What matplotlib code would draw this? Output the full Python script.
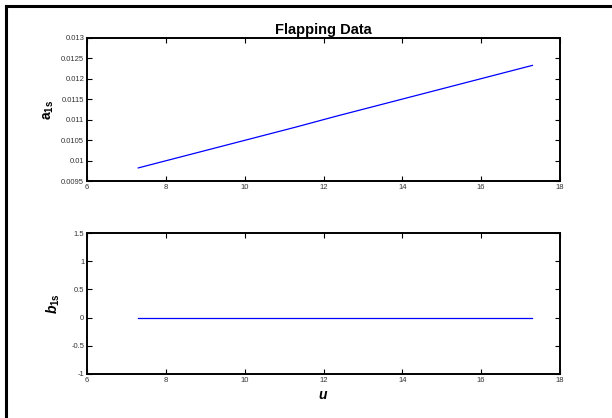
import matplotlib
matplotlib.use("Agg")
import matplotlib.pyplot as plt
from matplotlib.lines import Line2D

plt.rcParams['font.family'] = ['Liberation Sans', 'DejaVu Sans']
plt.rcParams['mathtext.fontset'] = 'custom'
plt.rcParams['mathtext.rm'] = 'Liberation Sans'
plt.rcParams['mathtext.bf'] = 'Liberation Sans:bold'
plt.rcParams['mathtext.it'] = 'Liberation Sans:italic:bold'

u = [7.3, 8.3, 9.3, 10.3, 11.3, 12.3, 13.3, 14.3, 15.3, 16.3, 17.3]
a1s = [0.00982, 0.01007, 0.01032, 0.01057, 0.01082, 0.01108,
       0.01133, 0.01158, 0.01183, 0.01208, 0.01233]
b1s = [0, 0, 0, 0, 0, 0, 0, 0, 0, 0, 0]

x_ticks = [6, 8, 10, 12, 14, 16, 18]
a_ticks = [0.0095, 0.01, 0.0105, 0.011, 0.0115, 0.012, 0.0125, 0.013]
a_ticklabels = ['0.0095', '0.01', '0.0105', '0.011', '0.0115', '0.012', '0.0125', '0.013']
b_ticks = [-1, -0.5, 0, 0.5, 1, 1.5]
b_ticklabels = ['-1', '-0.5', '0', '0.5', '1', '1.5']

fig = plt.figure(figsize=(6.12, 4.18), dpi=100)
fig.patch.set_facecolor('white')

ax1 = fig.add_axes([87/612, 1 - 181/418, 473/612, 143/418])
ax2 = fig.add_axes([87/612, 1 - 374/418, 473/612, 141/418])

def style(ax):
    for s in ax.spines.values():
        s.set_linewidth(1.4)
        s.set_color('black')
    ax.tick_params(direction='in', length=3.5, width=0.8, labelsize=5.5,
                   labelcolor='#333333', top=True, right=True, pad=2)

ax1.plot(u, a1s, color='blue', linewidth=0.9)
ax1.set_xlim(6, 18)
ax1.set_ylim(0.0095, 0.013)
ax1.set_xticks(x_ticks)
ax1.set_xticklabels([str(t) for t in x_ticks])
ax1.set_yticks(a_ticks)
ax1.set_yticklabels(a_ticklabels)
style(ax1)
ax1.set_title('Flapping Data', fontsize=10.5, fontweight='bold', pad=3)
ax1.set_ylabel(r'$\mathbf{a}_{\mathbf{1s}}$', fontsize=10, labelpad=4)

ax2.plot(u, b1s, color='blue', linewidth=0.9)
ax2.set_xlim(6, 18)
ax2.set_ylim(-1, 1.5)
ax2.set_xticks(x_ticks)
ax2.set_xticklabels([str(t) for t in x_ticks])
ax2.set_yticks(b_ticks)
ax2.set_yticklabels(b_ticklabels)
style(ax2)
ax2.set_ylabel(r'$\mathit{b}_{\mathbf{1s}}$', fontsize=10, labelpad=6.5)
ax2.set_xlabel(r'$\mathit{u}$', fontsize=10, labelpad=3)

# page border lines (left and top)
fig.add_artist(Line2D([6/612, 6/612], [0, 1 - 6/418], transform=fig.transFigure,
                      color='black', linewidth=2.2))
fig.add_artist(Line2D([6/612, 1], [1 - 6/418, 1 - 6/418], transform=fig.transFigure,
                      color='black', linewidth=2.2))

fig.savefig('out.png', dpi=100)
